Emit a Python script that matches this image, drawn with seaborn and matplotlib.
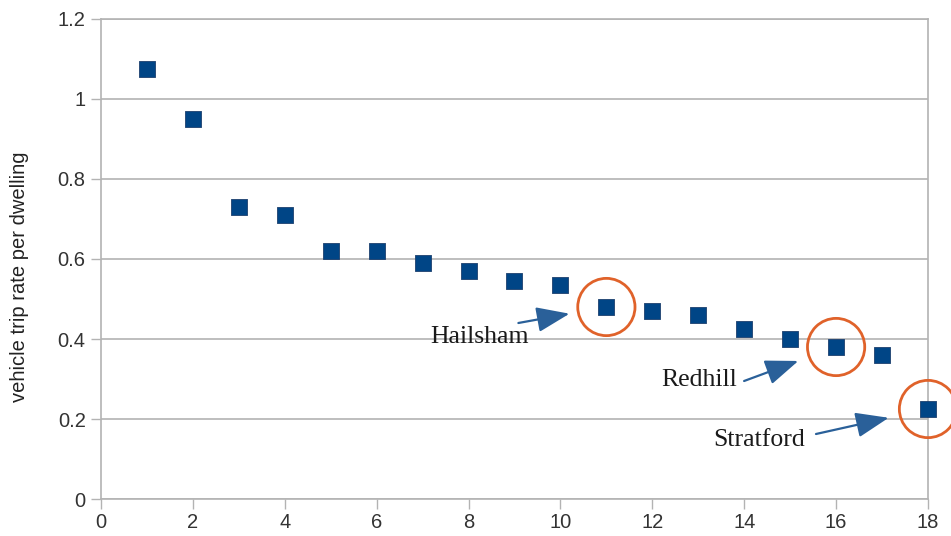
import matplotlib
matplotlib.use("Agg")
import matplotlib.pyplot as plt
import seaborn as sns
import pandas as pd

# Site rank and measured vehicle trip rate per dwelling
rank = list(range(1, 19))
trip_rate = [1.075, 0.95, 0.73, 0.71, 0.62, 0.62, 0.59, 0.57, 0.545,
             0.535, 0.48, 0.47, 0.46, 0.425, 0.40, 0.38, 0.36, 0.225]

# Highlighted sites: (name, rank)
highlight_names = ["Hailsham", "Redhill", "Stratford"]
highlight_ranks = [11, 16, 18]

df = pd.DataFrame({"rank": rank, "rate": trip_rate})

sns.set_theme(style="white")
plt.rcParams["font.family"] = ["Liberation Sans", "DejaVu Sans"]

fig = plt.figure(figsize=(9.51, 5.36), dpi=100)
ax = fig.add_axes([0.1062, 0.069, 0.8696, 0.8956])

sns.scatterplot(data=df, x="rank", y="rate", marker="s", s=140,
                color="#004586", edgecolor="#1c3f6e", linewidth=0.6,
                ax=ax, zorder=3, clip_on=False)

ax.set_xlim(0, 18)
ax.set_ylim(0, 1.2)
ax.set_xticks(range(0, 19, 2))
ax.set_yticks([0, 0.2, 0.4, 0.6, 0.8, 1.0, 1.2])
ax.set_yticklabels(["0", "0.2", "0.4", "0.6", "0.8", "1", "1.2"])
ax.set_xlabel("")
ax.set_ylabel("vehicle trip rate per dwelling", fontsize=14.5,
              color="#222222")
ax.yaxis.set_label_coords(-0.087, 0.462)

ax.grid(axis="y", color="#b3b3b3", linewidth=1.2)
ax.grid(axis="x", visible=False)
for side in ["left", "bottom", "right", "top"]:
    ax.spines[side].set_color("#b3b3b3")
    ax.spines[side].set_linewidth(1.2)
ax.tick_params(axis="both", which="major", length=7, width=1.0,
               color="#b3b3b3", labelsize=14.5, labelcolor="#333333",
               direction="out", pad=4)
ax.tick_params(axis="x", bottom=True, pad=3)
ax.tick_params(axis="y", left=True)

# Circles around the highlighted sites
hx = highlight_ranks
hy = [trip_rate[r - 1] for r in highlight_ranks]
ax.scatter(hx, hy, s=1700, facecolors="none", edgecolors="#e0622a",
           linewidths=2.0, zorder=4, clip_on=False)

# Labels and arrows (offsets in pixels relative to each point)
text_offsets = [(-127, -30), (-137, -33), (-169, -31)]
arrow_starts = [(-88, -16), (-92, -34), (-112, -25)]
arrow_shrink = [27, 29, 29]
for name, x, y, toff, aoff, shr in zip(highlight_names, hx, hy,
                                       text_offsets, arrow_starts,
                                       arrow_shrink):
    ax.annotate(name, xy=(x, y), xytext=toff, textcoords="offset pixels",
                ha="center", va="center", fontsize=18.5,
                family=["Liberation Serif", "DejaVu Serif"], color="#1a1a1a",
                zorder=5)
    ax.annotate("", xy=(x, y), xytext=aoff, textcoords="offset pixels",
                arrowprops=dict(arrowstyle="-|>,head_length=1.7,head_width=0.65",
                                color="#2a6099", lw=1.6, shrinkA=0,
                                shrinkB=shr),
                zorder=5)

fig.savefig("out.png", dpi=100, facecolor="white")
